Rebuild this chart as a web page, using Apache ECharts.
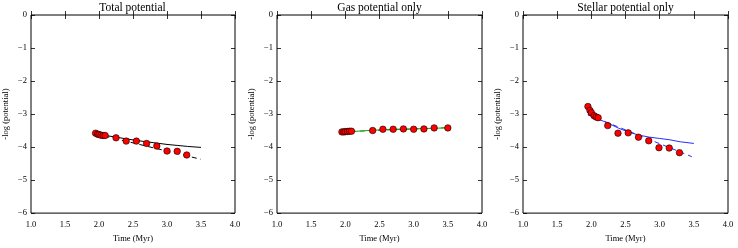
<!DOCTYPE html>
<html><head><meta charset="utf-8">
<script src="https://cdn.jsdelivr.net/npm/echarts@6/dist/echarts.min.js"></script>
<style>html,body{margin:0;padding:0;background:#fff}#c{width:738px;height:248px}</style>
</head><body><div id="c"></div>
<script>
// ---- data ----
const titles = ["Total potential", "Gas potential only", "Stellar potential only"];
const xTicks = [1.0, 1.5, 2.0, 2.5, 3.0, 3.5, 4.0];
const yTicks = [0, -1, -2, -3, -4, -5, -6];

const totalPtsT = [1.95, 1.98, 2.0, 2.03, 2.06, 2.09, 2.25, 2.4, 2.55, 2.7, 2.85, 3.0, 3.15, 3.29];
const totalPtsV = [-3.58, -3.61, -3.62, -3.64, -3.65, -3.65, -3.72, -3.82, -3.82, -3.89, -3.97, -4.12, -4.13, -4.24];
const totalSolidT = [1.95, 2.1, 2.25, 2.4, 2.55, 2.7, 2.85, 3.0, 3.15, 3.3, 3.5];
const totalSolidV = [-3.6, -3.65, -3.7, -3.75, -3.8, -3.84, -3.88, -3.92, -3.95, -3.98, -4.01];
const totalDashT = [1.95, 3.5];
const totalDashV = [-3.6, -4.37];

const gasPtsT = [1.95, 1.98, 2.0, 2.03, 2.06, 2.09, 2.4, 2.55, 2.7, 2.85, 3.0, 3.15, 3.3, 3.5];
const gasPtsV = [-3.54, -3.54, -3.53, -3.53, -3.52, -3.52, -3.50, -3.46, -3.46, -3.45, -3.46, -3.45, -3.42, -3.42];
const gasSolidT = [1.95, 2.1, 2.4, 2.7, 3.0, 3.3, 3.5];
const gasSolidV = [-3.54, -3.53, -3.49, -3.46, -3.45, -3.43, -3.42];
const gasDashT = [1.95, 3.5];
const gasDashV = [-3.54, -3.41];

const starPtsT = [1.95, 1.98, 2.0, 2.04, 2.07, 2.1, 2.24, 2.39, 2.54, 2.69, 2.84, 2.99, 3.14, 3.29];
const starPtsV = [-2.77, -2.89, -2.96, -3.05, -3.09, -3.11, -3.35, -3.58, -3.57, -3.70, -3.81, -4.02, -4.03, -4.17];
const starSolidT = [1.95, 2.1, 2.25, 2.4, 2.55, 2.7, 2.85, 3.0, 3.15, 3.3, 3.5];
const starSolidV = [-3.02, -3.15, -3.28, -3.43, -3.55, -3.64, -3.70, -3.74, -3.78, -3.84, -3.89];
const starDashT = [1.95, 3.47];
const starDashV = [-3.02, -4.29];

const lineColors = ["#000000", "#1f9a1f", "#2a2aff"];

// ---- chart ----
const zip = (a, b) => a.map((v, i) => [v, b[i]]);
const panels = [
  {pts: zip(totalPtsT, totalPtsV), solid: zip(totalSolidT, totalSolidV), dash: zip(totalDashT, totalDashV)},
  {pts: zip(gasPtsT, gasPtsV), solid: zip(gasSolidT, gasSolidV), dash: zip(gasDashT, gasDashV)},
  {pts: zip(starPtsT, starPtsV), solid: zip(starSolidT, starSolidV), dash: zip(starDashT, starDashV)}
];
const lefts = [30, 277, 523];
const W = 205, TOP = 15, H = 205;
const FONT = "Liberation Serif";
const grid = [], xAxis = [], yAxis = [], title = [], series = [];
const tickIn = () => ({inside: true, length: 4, lineStyle: {color: '#000', width: 0.8}});
panels.forEach((p, i) => {
  grid.push({left: lefts[i], top: TOP, width: W, height: H, show: true, borderColor: '#000', borderWidth: 1, containLabel: false});
  title.push({text: titles[i], left: lefts[i] + W / 2, top: 2, textAlign: 'center', padding: 0,
    textStyle: {fontFamily: FONT, fontSize: 11.5, fontWeight: 'normal', color: '#000'}});
  const xb = {type: 'value', gridIndex: i, min: 1, max: 4, interval: 0.5, splitLine: {show: false},
    axisLine: {show: false}};
  xAxis.push(Object.assign({}, xb, {position: 'bottom', axisTick: tickIn(), name: 'Time (Myr)', nameLocation: 'middle', nameGap: 19,
    nameTextStyle: {fontFamily: FONT, fontSize: 8.5, color: '#000'},
    axisLabel: {fontFamily: FONT, fontSize: 8.5, color: '#000', margin: 7, formatter: v => v.toFixed(1)}}));
  xAxis.push(Object.assign({}, xb, {position: 'top', axisTick: {inside: false, length: -4, lineStyle: {color: '#000', width: 0.8}}, axisLabel: {show: false}}));
  const yb = {type: 'value', gridIndex: i, min: -6, max: 0, interval: 1, splitLine: {show: false},
    axisLine: {show: false}, axisTick: tickIn()};
  yAxis.push(Object.assign({}, yb, {position: 'left', name: '-log (potential)', nameLocation: 'middle', nameGap: 21,
    nameTextStyle: {fontFamily: FONT, fontSize: 8.5, color: '#000'},
    axisLabel: {fontFamily: FONT, fontSize: 8.5, color: '#000', margin: 4,
      formatter: v => v === 0 ? '0' : '\u2212' + Math.abs(v)}}));
  yAxis.push(Object.assign({}, yb, {position: 'right', axisTick: tickIn(), axisLabel: {show: false}}));
  series.push({type: 'line', xAxisIndex: 2 * i, yAxisIndex: 2 * i, data: p.solid, showSymbol: false, symbol: 'none',
    lineStyle: {color: lineColors[i], width: 1}, z: 2, silent: true});
  series.push({type: 'line', xAxisIndex: 2 * i, yAxisIndex: 2 * i, data: p.dash, showSymbol: false, symbol: 'none',
    lineStyle: {color: lineColors[i], width: 1, type: [5, 4]}, z: 2, silent: true});
  series.push({type: 'scatter', xAxisIndex: 2 * i, yAxisIndex: 2 * i, data: p.pts, symbolSize: 6.5,
    itemStyle: {color: '#ff0000', borderColor: '#000', borderWidth: 0.6, opacity: 1}, z: 3, silent: true});
});
const chart = echarts.init(document.getElementById('c'), null, {renderer: 'canvas'});
chart.setOption({animation: false, backgroundColor: '#fff', title, grid, xAxis, yAxis, series});
</script></body></html>
